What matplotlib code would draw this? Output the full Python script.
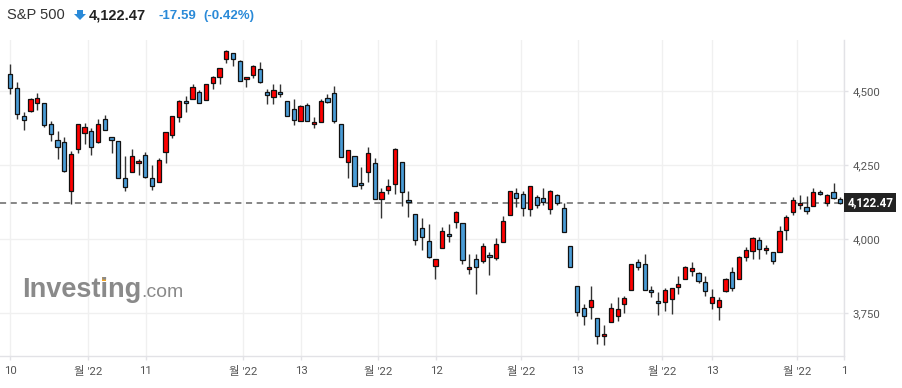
import matplotlib
matplotlib.use('Agg')
import matplotlib.pyplot as plt
from matplotlib.patches import Polygon, Rectangle
import numpy as np

# OHLC readings, oldest first
opens = [4556, 4509, 4415, 4432, 4459, 4459, 4388, 4334, 4327, 4162,
         4303, 4357, 4364, 4327, 4405, 4344, 4330, 4205, 4226, 4256,
         4283, 4205, 4192, 4293, 4351, 4411, 4465, 4472, 4496, 4470,
         4526, 4546, 4607, 4627, 4600, 4539, 4553, 4573, 4496, 4479,
         4496, 4465, 4438, 4398, 4452, 4388, 4394, 4475, 4492, 4388,
         4259, 4280, 4189, 4226, 4256, 4135, 4165, 4185, 4259, 4131,
         4084, 4037, 3993, 3909, 3969, 4017, 4057, 4054, 3898, 3932,
         3925, 3946, 3936, 3990, 4081, 4155, 4152, 4101, 4141, 4138,
         4101, 4148, 4104, 3976, 3841, 3767, 3770, 3733, 3672, 3720,
         3740, 3780, 3828, 3922, 3915, 3828, 3790, 3787, 3797, 3838,
         3865, 3892, 3885, 3855, 3784, 3770, 3824, 3888, 3865, 3939,
         3959, 3999, 3963, 3956, 3956, 4030, 4091, 4114, 4108, 4111,
         4158, 4121, 4158, 4136]
highs = [4590, 4529, 4428, 4475, 4492, 4461, 4399, 4365, 4346, 4298,
         4389, 4391, 4374, 4405, 4418, 4344, 4331, 4280, 4303, 4270,
         4293, 4249, 4273, 4361, 4415, 4469, 4482, 4523, 4502, 4523,
         4550, 4577, 4638, 4627, 4604, 4548, 4587, 4597, 4506, 4523,
         4523, 4465, 4472, 4452, 4459, 4411, 4472, 4489, 4516, 4388,
         4300, 4280, 4243, 4310, 4273, 4172, 4202, 4307, 4259, 4162,
         4084, 4071, 4050, 3932, 4040, 4050, 4094, 4054, 3949, 3949,
         3986, 3956, 4003, 4077, 4162, 4172, 4162, 4178, 4148, 4172,
         4165, 4151, 4121, 3976, 3841, 3780, 3841, 3733, 3710, 3784,
         3804, 3807, 3915, 3932, 3949, 3841, 3821, 3834, 3834, 3875,
         3909, 3922, 3888, 3875, 3831, 3804, 3868, 3905, 3942, 3973,
         4006, 4006, 3979, 3956, 4044, 4081, 4141, 4148, 4145, 4172,
         4165, 4151, 4189, 4144]
lows = [4489, 4405, 4368, 4430, 4436, 4378, 4331, 4270, 4226, 4119,
        4290, 4321, 4283, 4325, 4367, 4290, 4205, 4162, 4226, 4216,
        4205, 4165, 4192, 4256, 4340, 4395, 4428, 4472, 4459, 4470,
        4506, 4523, 4593, 4583, 4533, 4512, 4543, 4526, 4455, 4455,
        4479, 4415, 4384, 4398, 4398, 4374, 4394, 4459, 4391, 4276,
        4205, 4178, 4168, 4192, 4135, 4072, 4151, 4151, 4111, 4074,
        3979, 3963, 3936, 3865, 3969, 3990, 4037, 3915, 3882, 3814,
        3919, 3878, 3929, 3990, 4081, 4108, 4077, 4077, 4104, 4114,
        4084, 4114, 4023, 3905, 3740, 3710, 3730, 3645, 3642, 3720,
        3723, 3750, 3828, 3895, 3828, 3804, 3743, 3757, 3747, 3814,
        3865, 3875, 3851, 3807, 3764, 3726, 3821, 3824, 3865, 3926,
        3932, 3932, 3949, 3915, 3956, 3997, 4081, 4101, 4084, 4111,
        4148, 4111, 4135, 4119]
closes = [4509, 4421, 4403, 4472, 4475, 4384, 4354, 4310, 4229, 4288,
          4388, 4378, 4310, 4388, 4368, 4334, 4205, 4176, 4280, 4263,
          4209, 4178, 4266, 4361, 4415, 4465, 4459, 4512, 4459, 4523,
          4546, 4577, 4634, 4607, 4533, 4546, 4583, 4529, 4485, 4502,
          4489, 4415, 4401, 4448, 4398, 4394, 4465, 4462, 4398, 4276,
          4300, 4178, 4182, 4290, 4135, 4158, 4178, 4303, 4158, 4125,
          3996, 4006, 3939, 3932, 4027, 4010, 4091, 3929, 3905, 3905,
          3976, 3939, 3983, 4060, 4162, 4138, 4104, 4178, 4114, 4125,
          4162, 4121, 4023, 3905, 3753, 3740, 3794, 3672, 3679, 3767,
          3764, 3801, 3915, 3905, 3828, 3821, 3784, 3828, 3834, 3848,
          3905, 3902, 3858, 3824, 3804, 3794, 3865, 3834, 3939, 3963,
          4003, 3966, 3969, 3926, 4027, 4074, 4131, 4121, 4094, 4158,
          4151, 4148, 4140, 4122.47]

last_price = 4122.47
change = -17.59
change_pct = -0.42

y_ticks = [3750, 4000, 4250, 4500]
x_tick_pos = [0, 11.5, 20.1, 34.5, 43.1, 54.5, 63.1, 75.7, 84.1, 96.6, 104.0, 116.6, 123.55]
x_tick_labels = ['10', "월 '22", '11', "월 '22", '13', "월 '22", '12',
                 "월 '22", '13', "월 '22", '13', "월 '22", '1']

RED = '#ff0000'
BLUE = '#4a9cd6'

W, H = 903, 388
fig = plt.figure(figsize=(W / 100, H / 100), dpi=100)
ax = fig.add_axes([0, (H - 356) / H, 844 / W, 316 / H])

o = np.array(opens)
c = np.array(closes)
x = np.arange(len(o))
up = c >= o
colors = [RED if u else BLUE for u in up]
bottom = np.minimum(o, c)
height = np.maximum(np.abs(c - o), 4)

ax.vlines(x, lows, highs, color='#333333', linewidth=1.0, zorder=2)
ax.bar(x, height, bottom=bottom, width=0.62, color=colors,
       edgecolor='#111111', linewidth=0.9, zorder=3)

ax.axhline(last_price, color='#666666', linewidth=1.1, dashes=(4, 3), zorder=1)

ax.set_xlim(-1.53, 123.55)
ax.set_ylim(3606, 4672)

ax.yaxis.tick_right()
ax.set_yticks(y_ticks)
ax.set_yticklabels([f'{v:,}' for v in y_ticks])
ax.set_xticks(x_tick_pos)
ax.set_xticklabels(x_tick_labels)
ax.grid(True, color='#f0f0f0', linewidth=1.0, zorder=0)
ax.set_axisbelow(True)

for s in ['top', 'left']:
    ax.spines[s].set_visible(False)
for s in ['right', 'bottom']:
    ax.spines[s].set_color('#e2e2e6')
    ax.spines[s].set_linewidth(1.0)

lab_font = ['Roboto', 'Noto Sans CJK KR', 'DejaVu Sans']
ax.tick_params(axis='both', colors='#e2e2e6', length=3, width=1,
               labelcolor='#555555', labelsize=8.2)
ax.tick_params(axis='y', pad=3)
ax.tick_params(axis='x', pad=4)
for t in ax.get_xticklabels() + ax.get_yticklabels():
    t.set_family(lab_font)

# last price tag
ax.text(1.004, last_price, f'{last_price:,.2f}', transform=ax.get_yaxis_transform(),
        ha='left', va='center', color='white', fontsize=8.4, fontweight='bold',
        family=lab_font, clip_on=False,
        bbox=dict(boxstyle='square,pad=0.25', facecolor='#222222', edgecolor='none'))

# watermark
wm_size = 19.5
wm_x, wm_base = 22, 297
wm = fig.text(wm_x / W, 1 - wm_base / H, 'Investing', fontsize=wm_size, fontweight='bold',
              color='#8a8a8a', family='Liberation Sans', ha='left', va='baseline')
fig.canvas.draw()
r = fig.canvas.get_renderer()
bb = wm.get_window_extent(r)
fig.text(bb.x1 / W + 0.5 / W, 1 - wm_base / H, '.com', fontsize=14,
         color='#8a8a8a', family='Liberation Sans', ha='left', va='baseline')
# orange dot over the "i"
probe = fig.text(wm_x / W, 1 - wm_base / H, 'Invest', fontsize=wm_size, fontweight='bold',
                 family='Liberation Sans', ha='left', va='baseline', alpha=0)
px = probe.get_window_extent(r).x1
probe.remove()
em = wm_size * 100 / 72
dot = Rectangle((px + 0.06 * em, (H - wm_base) + 0.595 * em), 0.15 * em, 0.13 * em,
                transform=None, facecolor='#f5a623', edgecolor='none')
fig.patches.append(dot)

# header
hy = 1 - 19 / H
fig.text(7 / W, hy, 'S&P 500', fontsize=10.5, color='#333333',
         family='Liberation Sans', ha='left', va='baseline')
arrow = Polygon([(77, 10), (83, 10), (83, 14), (86, 14), (80, 20), (74, 14), (77, 14)],
                closed=True, transform=None, facecolor='#2a8ad8', edgecolor='none')
arrow.set_xy([(px_, H - py_) for px_, py_ in arrow.get_xy()])
fig.patches.append(arrow)
fig.text(89 / W, hy, f'{last_price:,.2f}', fontsize=10.5, fontweight='bold',
         color='#222222', family='Liberation Sans', ha='left', va='baseline')
fig.text(159 / W, hy, f'{change:.2f}', fontsize=9.5, fontweight='bold',
         color='#2a8ad8', family='Liberation Sans', ha='left', va='baseline')
fig.text(203 / W, hy, f'({change_pct:.2f}%)', fontsize=9.5, fontweight='bold',
         color='#2a8ad8', family='Liberation Sans', ha='left', va='baseline')

fig.savefig('out.png', dpi=100)
